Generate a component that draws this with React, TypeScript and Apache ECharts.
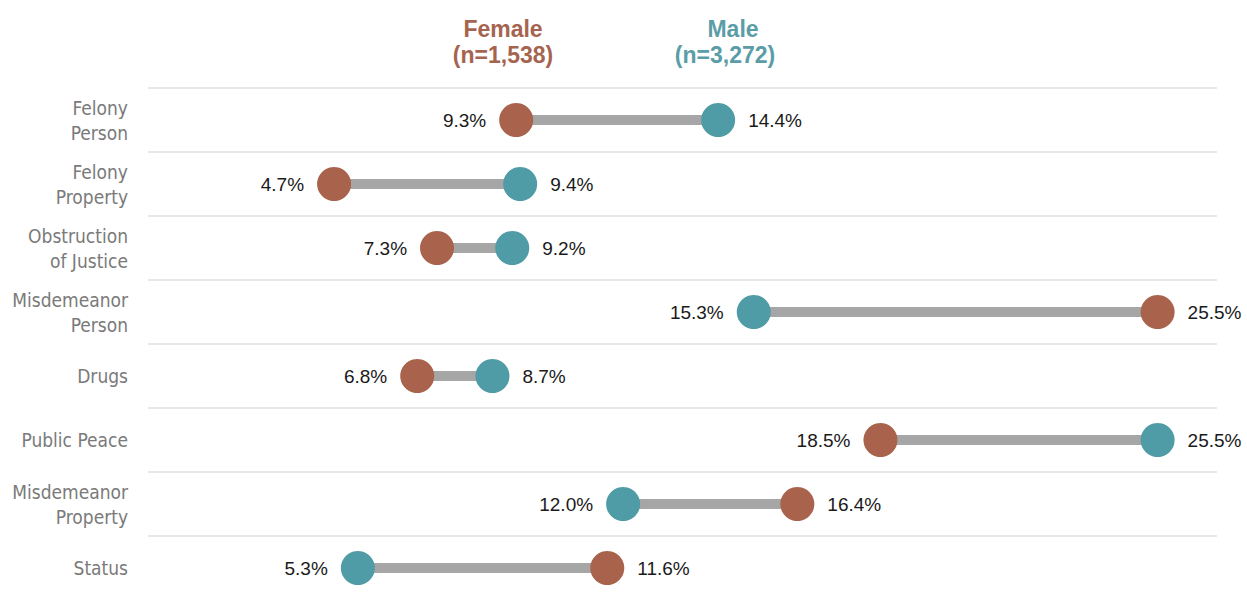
import React, { useEffect, useRef } from "react";
import * as echarts from "echarts";

const categories = [
  "Felony\nPerson",
  "Felony\nProperty",
  "Obstruction\nof Justice",
  "Misdemeanor\nPerson",
  "Drugs",
  "Public Peace",
  "Misdemeanor\nProperty",
  "Status",
];
const femaleValues = [9.3, 4.7, 7.3, 25.5, 6.8, 18.5, 16.4, 11.6];
const maleValues = [14.4, 9.4, 9.2, 15.3, 8.7, 25.5, 12.0, 5.3];
const femaleHeader = ["Female", "(n=1,538)"];
const maleHeader = ["Male", "(n=3,272)"];

const FEMALE = "#A9624B";
const MALE = "#4F9BA6";
const FEMALE_TXT = "#A5644F";
const MALE_TXT = "#5A9DA7";
const LABEL_FONT = "'Liberation Sans Narrow', 'DejaVu Sans Condensed', 'Liberation Sans', sans-serif";
const VALUE_FONT = "'Liberation Sans', Arial, sans-serif";

export default function App() {
  const ref = useRef<HTMLDivElement>(null);
  useEffect(() => {
    if (!ref.current) return;
    const chart = echarts.init(ref.current, undefined, { renderer: "svg" });

    const pointData = (vals: number[], others: number[]) =>
      vals.map((v, i) => ({
        value: [v, i],
        label: { position: v < others[i] ? "left" : "right" },
      }));

    const labelCfg = {
      show: true,
      distance: 13,
      formatter: (p: any) => `${p.value[0].toFixed(1)}%`,
      color: "#1a1a1a",
      fontSize: 19,
      fontFamily: VALUE_FONT,
    };

    const header = (text: string, x: number, y: number, color: string) => ({
      type: "text",
      x,
      y,
      style: {
        text,
        fill: color,
        font: `bold 23px ${VALUE_FONT}`,
        align: "center",
        verticalAlign: "middle",
      },
    });

    chart.setOption({
      animation: false,
      backgroundColor: "#fff",
      grid: { left: 148, right: 30, top: 88, height: 512 },
      xAxis: { type: "value", min: 0, max: 27, show: false },
      yAxis: {
        type: "category",
        data: categories,
        inverse: true,
        axisLine: { show: false },
        axisTick: { show: false },
        splitLine: { show: true, lineStyle: { color: "#e0e0e0", width: 1.5 } },
        axisLabel: {
          margin: 20,
          color: "#7a7a7a",
          fontSize: 19,
          lineHeight: 25,
          fontFamily: LABEL_FONT,
          align: "right",
        },
      },
      graphic: [
        header(femaleHeader[0], 503, 29, FEMALE_TXT),
        header(femaleHeader[1], 503, 55, FEMALE_TXT),
        header(maleHeader[0], 733, 29, MALE_TXT),
        header(maleHeader[1], 725, 55, MALE_TXT),
      ],
      series: [
        {
          type: "custom",
          z: 1,
          encode: { x: [0, 1], y: 2 },
          data: femaleValues.map((f, i) => [f, maleValues[i], i]),
          renderItem: (_params: any, api: any) => {
            const a = api.coord([api.value(0), api.value(2)]);
            const b = api.coord([api.value(1), api.value(2)]);
            return {
              type: "line",
              shape: { x1: a[0], y1: a[1], x2: b[0], y2: b[1] },
              style: { stroke: "#A6A6A6", lineWidth: 10 },
            };
          },
        },
        {
          type: "scatter",
          name: "Female",
          z: 3,
          symbolSize: 34,
          itemStyle: { color: FEMALE, opacity: 1 },
          label: labelCfg,
          data: pointData(femaleValues, maleValues),
        },
        {
          type: "scatter",
          name: "Male",
          z: 3,
          symbolSize: 34,
          itemStyle: { color: MALE, opacity: 1 },
          label: labelCfg,
          data: pointData(maleValues, femaleValues),
        },
      ],
    });
    return () => chart.dispose();
  }, []);
  return (
    <div
      ref={ref}
      style={{ position: "fixed", left: 0, top: 0, width: 1247, height: 612 }}
    />
  );
}
